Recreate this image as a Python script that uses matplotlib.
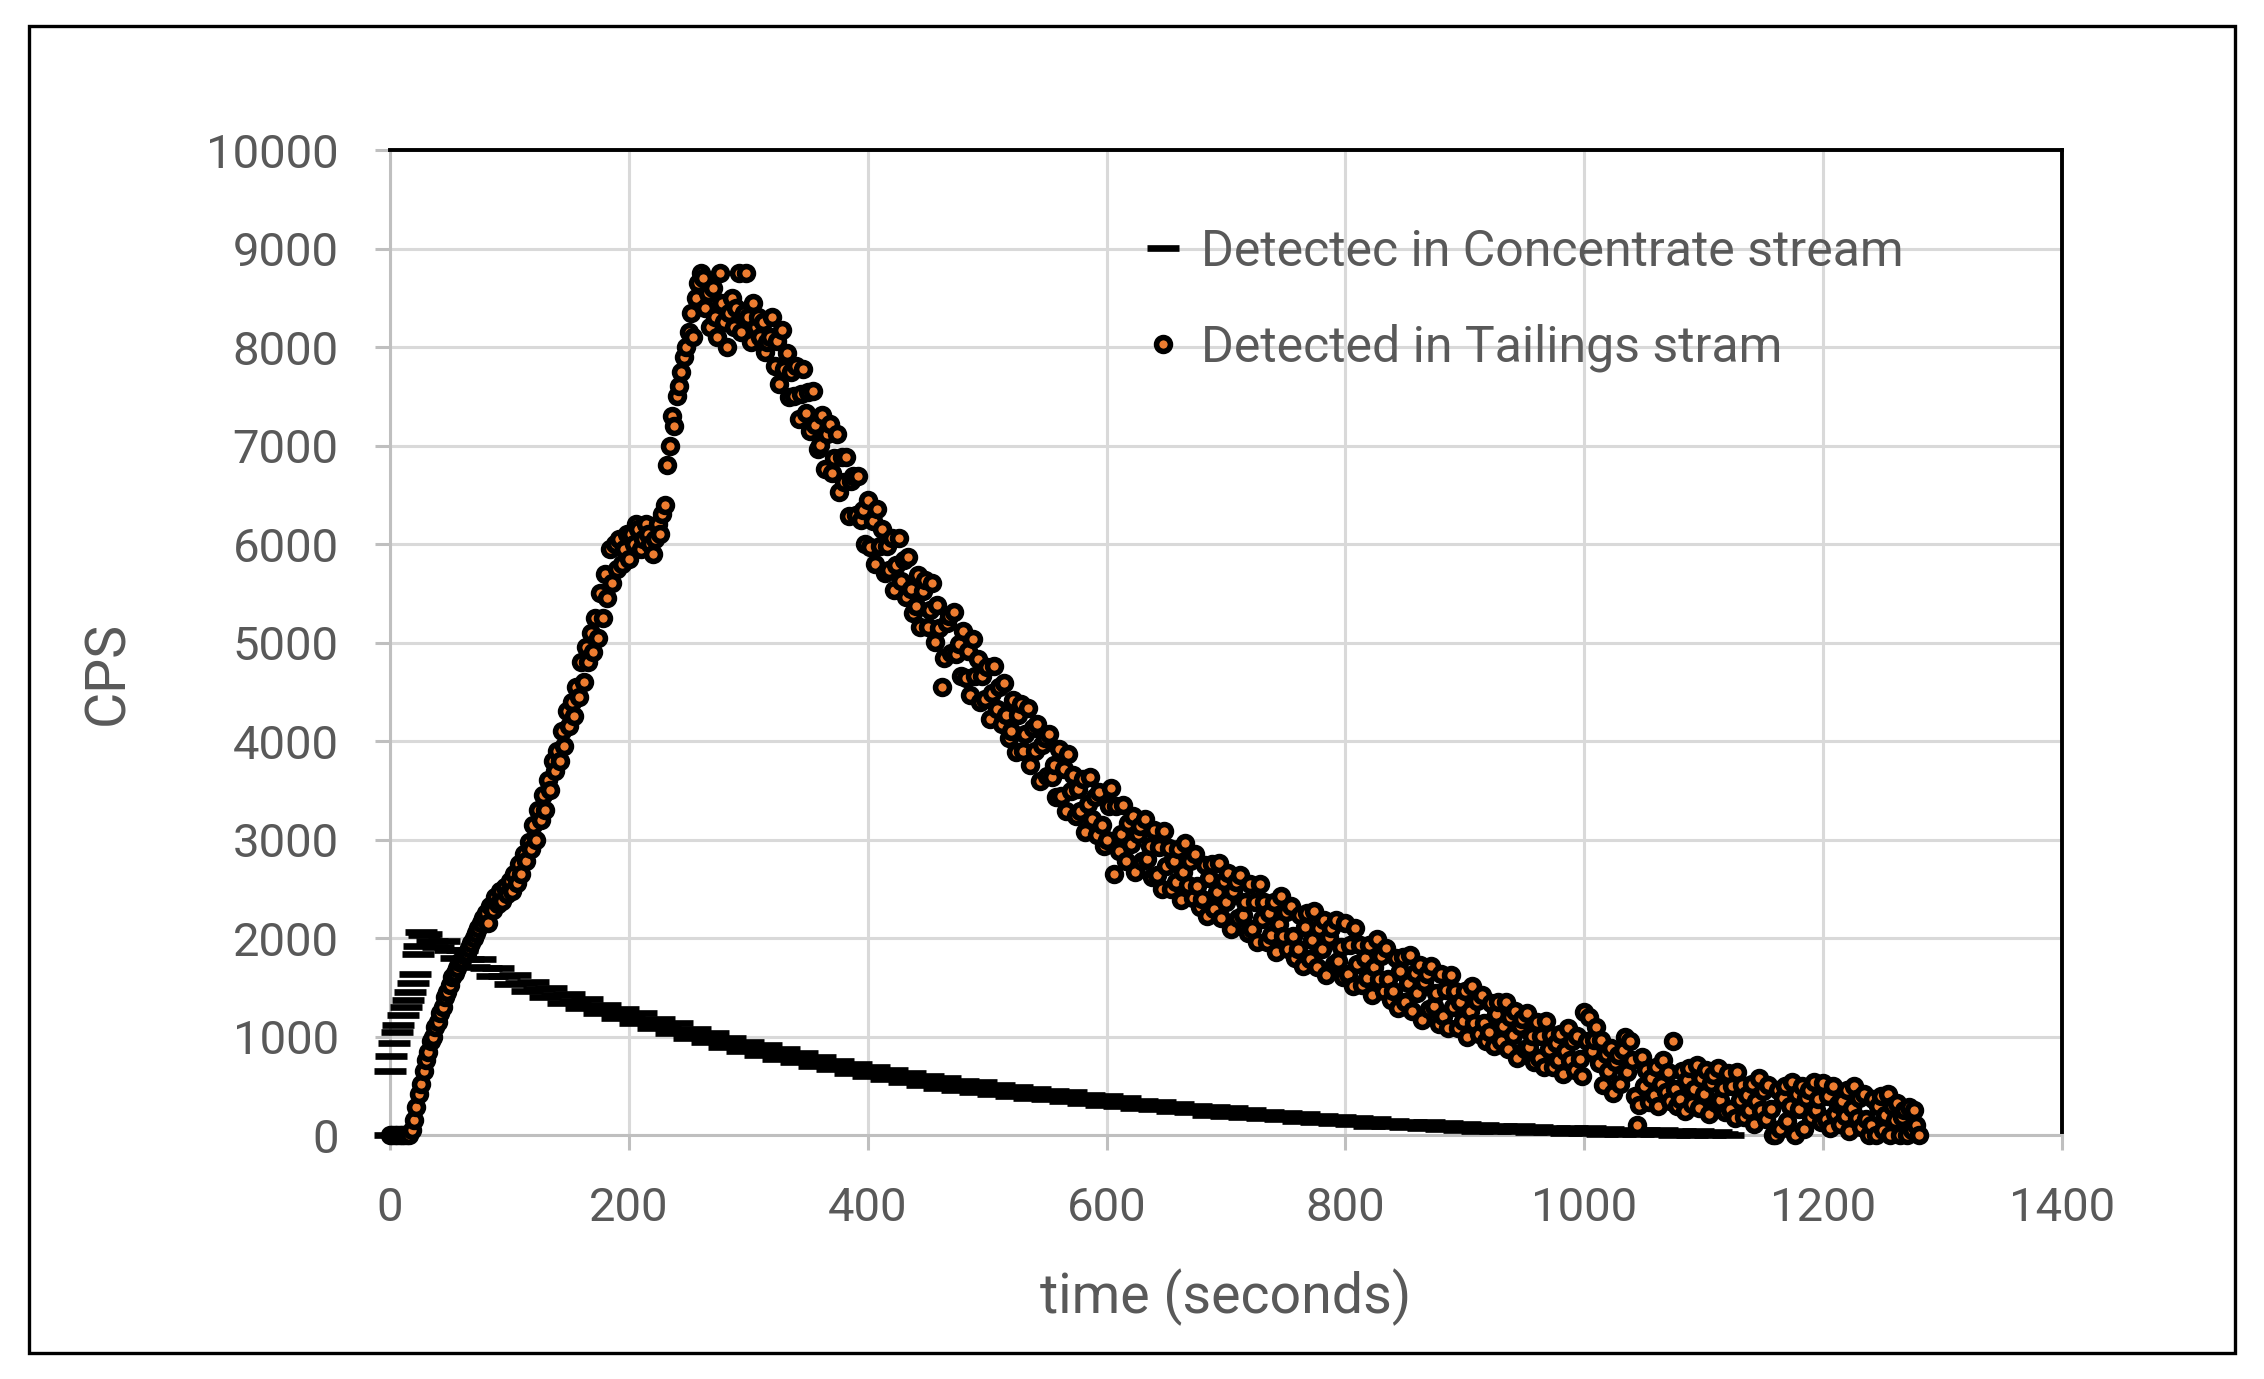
import matplotlib.pyplot as plt
from matplotlib.patches import Rectangle

# 폰트 설정
plt.rcParams['font.family'] = ['Roboto', 'DejaVu Sans']

# 데이터 준비 - Concentrate stream (초반 구간 + 5초 간격)
conc_time = [0, 0, 1, 3, 6, 7, 11, 13, 15, 17, 19, 21, 23, 24, 26, 28] + list(range(30, 1125, 5))
conc_cps = [
    0, 650, 800, 930, 1050, 1120, 1220, 1300, 1370, 1450, 1540, 1640, 1840, 1920, 2060, 2030,
    2045, 1975, 1905, 1975, 1880, 1795, 1875, 1790, 1705, 1785, 1700, 1615, 1695, 1615, 1535, 1620, 1540, 1465, 1555, 1480,
    1405, 1495, 1420, 1345, 1435, 1360, 1285, 1380, 1310, 1235, 1325, 1255, 1185, 1280, 1210, 1140, 1235, 1160, 1085, 1180,
    1110, 1040, 1135, 1060, 985, 1080, 1010, 940, 1035, 965, 895, 990, 920, 850, 945, 880, 815, 910, 840, 775,
    870, 805, 740, 830, 770, 705, 790, 730, 670, 755, 690, 630, 720, 660, 600, 690, 630, 570, 660, 600,
    540, 630, 570, 510, 600, 540, 480, 575, 520, 460, 550, 495, 440, 535, 480, 420, 510, 455, 400, 490,
    430, 380, 465, 415, 365, 450, 400, 350, 435, 380, 325, 410, 360, 310, 395, 345, 295, 375, 320, 270,
    350, 305, 260, 335, 290, 245, 320, 275, 230, 300, 250, 205, 280, 238, 195, 270, 225, 180, 255, 210,
    170, 238, 200, 160, 225, 185, 145, 210, 170, 130, 195, 157, 120, 185, 147, 108, 175, 135, 95, 162,
    125, 90, 145, 112, 80, 137, 105, 72, 130, 97, 65, 122, 88, 55, 110, 77, 45, 102, 70, 37,
    95, 67, 40, 87, 60, 32, 80, 52, 27, 75, 50, 22, 70, 44, 19, 67, 40, 14, 63, 37,
    15, 54, 33, 12, 52, 30, 8, 47, 25, 4, 42, 20, 0, 38, 17, 0, 35, 14, 0,
]

# 데이터 준비 - Tailings stream (2초 간격, 0~1280초)
tail_time = list(range(0, 1282, 2))
tail_cps = [
    0, 0, 0, 0, 0, 0, 0, 0, 0, 50, 150, 280, 420, 520, 650, 760, 840, 950, 1000, 1100,
    1150, 1240, 1300, 1400, 1450, 1520, 1600, 1650, 1700, 1760, 1780, 1830, 1850, 1900, 1950, 2000, 2050, 2100, 2150, 2200,
    2250, 2150, 2330, 2280, 2420, 2350, 2480, 2380, 2520, 2450, 2580, 2480, 2650, 2560, 2750, 2650, 2850, 2780, 2980, 2900,
    3150, 3000, 3300, 3200, 3450, 3300, 3600, 3500, 3800, 3700, 3900, 3800, 4100, 3950, 4300, 4150, 4400, 4250, 4550, 4450,
    4800, 4600, 4950, 4800, 5100, 4900, 5250, 5050, 5500, 5250, 5700, 5450, 5950, 5600, 6000, 5750, 6050, 5800, 5950, 6100,
    5850, 6100, 6000, 6200, 6150, 5950, 6050, 6200, 6100, 6000, 5900, 6050, 6200, 6100, 6300, 6400, 6800, 7000, 7300, 7200,
    7500, 7600, 7750, 7900, 8000, 8150, 8350, 8100, 8500, 8650, 8750, 8700, 8400, 8550, 8200, 8600, 8300, 8100, 8750, 8450,
    8250, 8000, 8350, 8500, 8200, 8400, 8750, 8150, 8350, 8750, 8300, 8050, 8450, 8200, 8300, 8100, 8250, 7950, 8050, 8100,
    8300, 7810, 8060, 7620, 8170, 7780, 7940, 7490, 7750, 7500, 7810, 7270, 7520, 7780, 7330, 7540, 7150, 7550, 7210, 6960,
    7010, 7310, 6760, 7120, 7220, 6720, 6870, 7120, 6530, 6880, 6630, 6880, 6280, 6640, 6690, 6290, 6690, 6240, 6350, 6000,
    6450, 5970, 6230, 5800, 6360, 5980, 6150, 5710, 5980, 5740, 6060, 5530, 5790, 6060, 5620, 5840, 5460, 5870, 5540, 5300,
    5370, 5690, 5160, 5520, 5640, 5160, 5330, 5600, 5010, 5380, 5150, 4550, 4840, 5200, 5270, 4890, 5310, 4880, 4990, 4660,
    5120, 4640, 4910, 4470, 5040, 4660, 4830, 4400, 4660, 4430, 4750, 4220, 4490, 4760, 4330, 4550, 4170, 4590, 4260, 4030,
    4100, 4420, 3890, 4260, 4380, 3900, 4070, 4340, 3760, 4130, 3900, 4170, 3590, 3960, 4030, 3650, 4070, 3640, 3760, 3430,
    3920, 3440, 3720, 3290, 3870, 3490, 3660, 3240, 3510, 3290, 3610, 3080, 3360, 3630, 3210, 3430, 3050, 3480, 3150, 2930,
    3000, 3340, 3520, 2650, 3340, 2880, 3060, 3350, 2780, 3170, 2950, 3240, 2670, 3060, 3140, 2780, 3210, 2800, 2930, 2620,
    3100, 2640, 2920, 2500, 3090, 2730, 2910, 2500, 2780, 2570, 2900, 2390, 2670, 2960, 2540, 2780, 2410, 2850, 2530, 2320,
    2400, 2740, 2220, 2610, 2750, 2290, 2470, 2760, 2200, 2580, 2370, 2660, 2090, 2480, 2570, 2200, 2640, 2230, 2370, 2050,
    2550, 2090, 2370, 1960, 2550, 2190, 2370, 1960, 2250, 2030, 2370, 1860, 2140, 2430, 2020, 2260, 1890, 2330, 2020, 1800,
    1890, 2230, 1720, 2110, 2250, 1790, 1980, 2270, 1710, 2100, 1890, 2180, 1620, 2010, 2100, 1740, 2180, 1770, 1910, 1600,
    2150, 1640, 1930, 1510, 2100, 1740, 1930, 1520, 1800, 1590, 1930, 1420, 1710, 1990, 1580, 1820, 1460, 1900, 1580, 1370,
    1460, 1800, 1290, 1670, 1810, 1350, 1540, 1830, 1260, 1650, 1440, 1730, 1170, 1550, 1640, 1280, 1720, 1310, 1440, 1130,
    1630, 1210, 1470, 1090, 1620, 1300, 1460, 1090, 1350, 1160, 1460, 1000, 1260, 1510, 1140, 1360, 1030, 1420, 1140, 950,
    1050, 1340, 900, 1230, 1350, 950, 1110, 1350, 870, 1200, 1020, 1260, 780, 1110, 1180, 870, 1240, 890, 1010, 740,
    1150, 780, 1010, 690, 1160, 870, 1020, 690, 930, 760, 1030, 620, 850, 1090, 760, 950, 660, 1010, 770, 600,
    1250, 950, 1200, 850, 960, 1100, 730, 960, 510, 820, 650, 880, 430, 740, 810, 520, 860, 1000, 640, 950,
    760, 400, 100, 310, 790, 500, 660, 340, 580, 410, 690, 290, 520, 760, 440, 640, 350, 950, 470, 300,
    370, 650, 240, 560, 680, 320, 470, 710, 270, 580, 420, 660, 210, 530, 610, 330, 680, 360, 480, 230,
    630, 260, 500, 170, 640, 360, 510, 180, 410, 250, 520, 110, 350, 580, 250, 450, 160, 510, 260, 0,
    0, 460, 60, 380, 500, 140, 300, 540, 0, 420, 260, 500, 60, 380, 460, 180, 540, 250, 370, 130,
    530, 165, 400, 70, 500, 210, 320, 110, 350, 190, 460, 40, 270, 500, 170, 380, 80, 420, 160, 0,
    100, 370, 0, 300, 400, 50, 200, 420, 0, 300, 150, 330, 0, 180, 250, 0, 280, 50, 250, 100, 0,
]

grid_color = '#D9D9D9'
axis_color = '#BFBFBF'
text_color = '#595959'

fig = plt.figure(figsize=(11.32, 6.895), dpi=200)
ax = fig.add_axes([0.1723, 0.1769, 0.7385, 0.7143])

# Concentrate: 검은 대시 마커
ax.plot(conc_time, conc_cps, linestyle='none', marker='_', markersize=11.2,
        markeredgewidth=2.4, color='black', clip_on=False, zorder=3,
        label='Detectec in Concentrate stream')

# Tailings: 주황 원형 마커 (검은 테두리)
ax.plot(tail_time, tail_cps, linestyle='none', marker='o', markersize=5.0,
        markerfacecolor='#ED7D31', markeredgecolor='black', markeredgewidth=2.0,
        clip_on=False, zorder=4, label='Detected in Tailings stram')

ax.set_xlim(0, 1400)
ax.set_ylim(0, 10000)
ax.set_xticks(range(0, 1401, 200))
ax.set_yticks(range(0, 10001, 1000))

ax.grid(True, color=grid_color, linewidth=1.1)
ax.set_axisbelow(True)

for side in ['top', 'right']:
    ax.spines[side].set_color('black')
    ax.spines[side].set_linewidth(1.4)
for side in ['left', 'bottom']:
    ax.spines[side].set_color(axis_color)
    ax.spines[side].set_linewidth(1.1)
    ax.spines[side].set_zorder(2.5)

ax.tick_params(axis='both', direction='out', length=5.5, width=1.1, color=axis_color,
               labelsize=17, labelcolor=text_color, pad=13)

ax.set_xlabel('time (seconds)', fontsize=20, color=text_color)
ax.set_ylabel('CPS', fontsize=20, color=text_color)
ax.xaxis.set_label_coords(0.5, -0.135)
ax.yaxis.set_label_coords(-0.153, 0.469)

leg = ax.legend(loc='upper left', bbox_to_anchor=(0.425, 0.967), frameon=False,
                fontsize=18, labelspacing=0.95, handlelength=0.7, handletextpad=0.4)
for t in leg.get_texts():
    t.set_color(text_color)

# 바깥 테두리
fig.patches.append(Rectangle((0.0128, 0.0188), 0.9746, 0.962, transform=fig.transFigure,
                             fill=False, edgecolor='black', linewidth=1.2))

fig.savefig('out.png', dpi=200)
